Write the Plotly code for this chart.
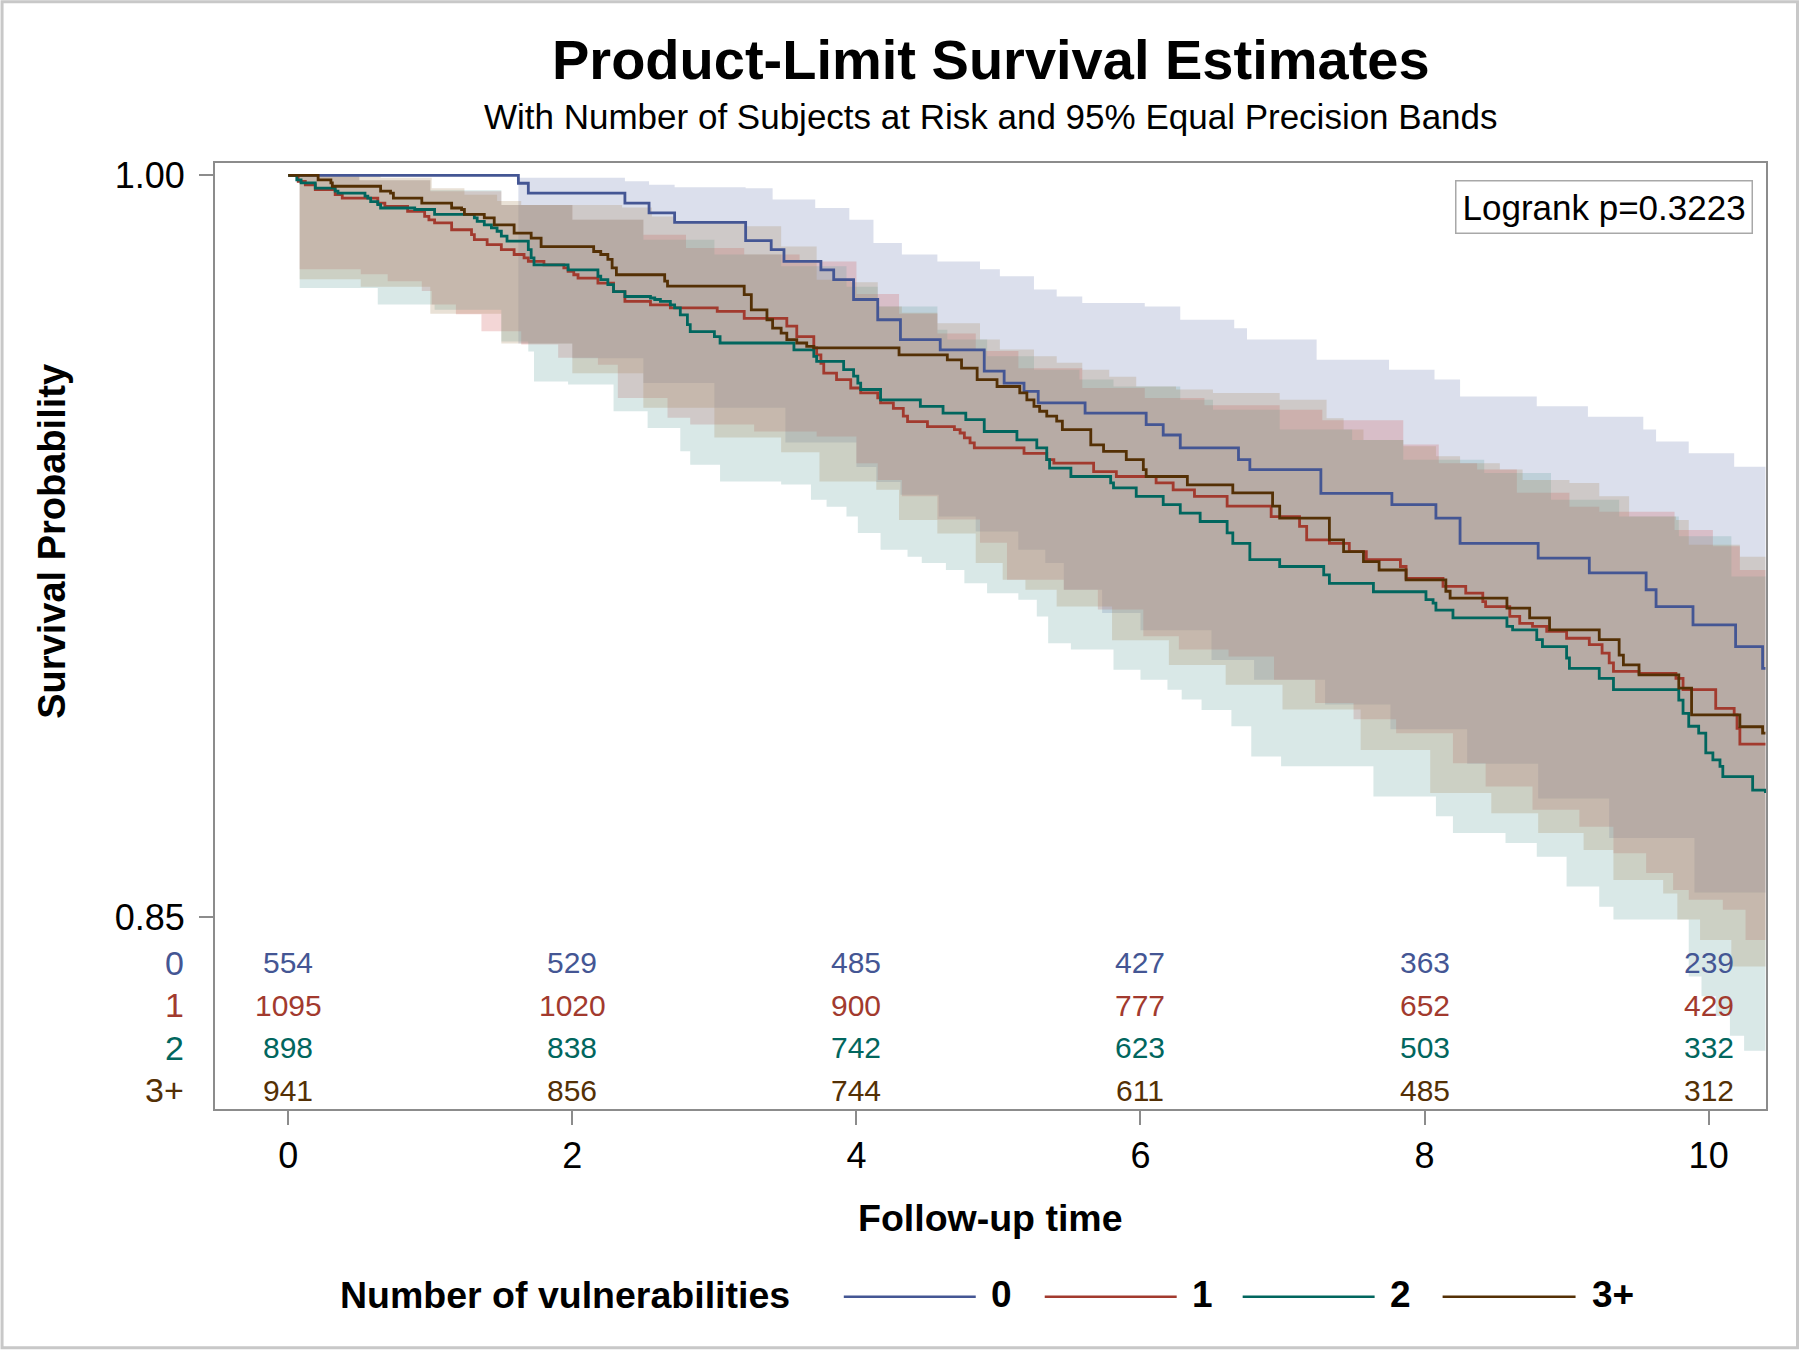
import plotly.graph_objects as go

# ---------------- data ----------------
groups = ["0", "1", "2", "3+"]

# Kaplan-Meier step curves: event times and survival after each step
t0 = [0, 1.62, 1.69, 2.37, 2.54, 2.72, 3.22, 3.40, 3.49, 3.75, 3.84, 3.98, 4.15, 4.31, 4.59, 4.90, 5.04, 5.18, 5.28, 5.61,
      6.04, 6.16, 6.28, 6.69, 6.77, 7.27, 7.77, 8.08, 8.25, 8.80, 9.16, 9.56, 9.63, 9.89, 10.19, 10.38, 10.40]
s0 = [1.0, 0.9984, 0.9964, 0.9944, 0.9924, 0.9905, 0.9868, 0.9850, 0.9826, 0.9809, 0.9789, 0.9749, 0.9708, 0.9668, 0.9647, 0.9604, 0.9580, 0.9563, 0.9540, 0.9519,
      0.9496, 0.9475, 0.9449, 0.9425, 0.9405, 0.9357, 0.9334, 0.9307, 0.9256, 0.9226, 0.9196, 0.9162, 0.9128, 0.9091, 0.9047, 0.9003, 0.9003]

t1 = [0, 0.07, 0.12, 0.19, 0.33, 0.38, 0.63, 0.68, 0.84, 0.96, 0.99, 1.03, 1.15, 1.29, 1.31, 1.40, 1.50, 1.59, 1.66, 1.69,
      1.80, 1.94, 1.97, 2.01, 2.04, 2.18, 2.29, 2.37, 2.55, 2.69, 3.02, 3.21, 3.51, 3.58, 3.70, 3.72, 3.75, 3.77, 3.86, 3.96,
      4.03, 4.15, 4.17, 4.26, 4.33, 4.36, 4.50, 4.69, 4.73, 4.76, 4.80, 4.83, 5.18, 5.34, 5.39, 5.67, 5.83, 6.11, 6.23, 6.38,
      6.61, 6.92, 7.12, 7.17, 7.33, 7.47, 7.59, 7.83, 7.87, 8.13, 8.29, 8.41, 8.43, 8.60, 8.67, 8.76, 8.86, 9.00, 9.16, 9.25,
      9.30, 9.33, 9.51, 9.77, 9.82, 10.05, 10.18, 10.20, 10.22, 10.40]
s1 = [1.0, 0.9988, 0.9981, 0.9971, 0.9961, 0.9954, 0.9944, 0.9937, 0.9927, 0.9917, 0.9910, 0.9904, 0.9890, 0.9880, 0.9870, 0.9860, 0.9850, 0.9840, 0.9833, 0.9826,
      0.9819, 0.9813, 0.9806, 0.9799, 0.9792, 0.9782, 0.9765, 0.9745, 0.9738, 0.9732, 0.9725, 0.9711, 0.9695, 0.9674, 0.9651, 0.9637, 0.9620, 0.9600, 0.9587, 0.9570,
      0.9560, 0.9550, 0.9540, 0.9529, 0.9513, 0.9502, 0.9492, 0.9486, 0.9479, 0.9469, 0.9459, 0.9449, 0.9438, 0.9425, 0.9418, 0.9401, 0.9391, 0.9378, 0.9364, 0.9351,
      0.9331, 0.9310, 0.9290, 0.9263, 0.9256, 0.9239, 0.9223, 0.9209, 0.9185, 0.9169, 0.9155, 0.9138, 0.9128, 0.9108, 0.9094, 0.9088, 0.9078, 0.9064, 0.9051, 0.9034,
      0.9014, 0.8997, 0.8993, 0.8983, 0.8960, 0.8922, 0.8909, 0.8882, 0.8850, 0.8850]

t2 = [0, 0.06, 0.09, 0.19, 0.33, 0.35, 0.54, 0.56, 0.58, 0.63, 0.65, 0.89, 1.03, 1.31, 1.33, 1.38, 1.43, 1.47, 1.50, 1.54,
      1.69, 1.71, 1.73, 1.97, 2.18, 2.20, 2.25, 2.29, 2.37, 2.55, 2.58, 2.62, 2.69, 2.72, 2.76, 2.81, 2.83, 3.00, 3.04, 3.56,
      3.70, 3.72, 3.91, 3.98, 4.01, 4.03, 4.17, 4.45, 4.61, 4.77, 4.90, 5.13, 5.27, 5.34, 5.36, 5.51, 5.79, 5.81, 5.97, 6.16,
      6.28, 6.42, 6.61, 6.65, 6.77, 6.98, 7.29, 7.33, 7.64, 8.01, 8.06, 8.08, 8.20, 8.58, 8.62, 8.79, 8.83, 9.00, 9.02, 9.23,
      9.33, 9.79, 9.82, 9.86, 9.93, 9.98, 10.03, 10.08, 10.10, 10.31, 10.40]
s2 = [1.0, 0.9991, 0.9985, 0.9974, 0.9968, 0.9964, 0.9958, 0.9954, 0.9947, 0.9941, 0.9934, 0.9931, 0.9921, 0.9914, 0.9907, 0.9900, 0.9894, 0.9887, 0.9877, 0.9867,
      0.9850, 0.9833, 0.9819, 0.9809, 0.9796, 0.9789, 0.9779, 0.9765, 0.9755, 0.9752, 0.9749, 0.9745, 0.9738, 0.9732, 0.9718, 0.9698, 0.9684, 0.9674, 0.9661, 0.9647,
      0.9634, 0.9624, 0.9607, 0.9594, 0.9580, 0.9567, 0.9546, 0.9533, 0.9519, 0.9506, 0.9482, 0.9465, 0.9449, 0.9425, 0.9408, 0.9391, 0.9378, 0.9368, 0.9351, 0.9334,
      0.9317, 0.9300, 0.9277, 0.9256, 0.9223, 0.9209, 0.9192, 0.9175, 0.9158, 0.9142, 0.9135, 0.9121, 0.9105, 0.9088, 0.9081, 0.9061, 0.9047, 0.9024, 0.9003, 0.8983,
      0.8960, 0.8939, 0.8912, 0.8886, 0.8872, 0.8832, 0.8818, 0.8805, 0.8784, 0.8757, 0.8751]

t3 = [0, 0.21, 0.30, 0.31, 0.65, 0.72, 0.74, 0.94, 1.15, 1.22, 1.24, 1.38, 1.45, 1.59, 1.71, 1.78, 2.15, 2.20, 2.25, 2.28,
      2.31, 2.65, 2.67, 3.21, 3.26, 3.37, 3.41, 3.47, 3.51, 3.58, 3.65, 3.70, 4.30, 4.64, 4.74, 4.85, 4.99, 5.15, 5.20, 5.25,
      5.29, 5.34, 5.41, 5.45, 5.65, 5.74, 5.90, 6.02, 6.04, 6.33, 6.65, 6.93, 6.98, 7.33, 7.43, 7.57, 7.68, 7.87, 8.15, 8.18,
      8.58, 8.74, 8.88, 9.23, 9.37, 9.40, 9.51, 9.79, 9.88, 10.22, 10.38, 10.40]
s3 = [1.0, 0.9991, 0.9985, 0.9978, 0.9968, 0.9964, 0.9954, 0.9944, 0.9934, 0.9931, 0.9921, 0.9914, 0.9900, 0.9883, 0.9873, 0.9856, 0.9846, 0.9840, 0.9830, 0.9813,
      0.9799, 0.9786, 0.9776, 0.9759, 0.9728, 0.9708, 0.9691, 0.9681, 0.9668, 0.9661, 0.9654, 0.9651, 0.9637, 0.9627, 0.9610, 0.9587, 0.9573, 0.9560, 0.9546, 0.9533,
      0.9523, 0.9513, 0.9503, 0.9486, 0.9455, 0.9442, 0.9425, 0.9405, 0.9391, 0.9374, 0.9358, 0.9331, 0.9307, 0.9263, 0.9239, 0.9219, 0.9202, 0.9182, 0.9159, 0.9145,
      0.9125, 0.9105, 0.9081, 0.9061, 0.9030, 0.9010, 0.8990, 0.8963, 0.8909, 0.8885, 0.8872, 0.8872]

# 95% equal precision bands (lower / upper step edges)
bl0_x = [1.62, 2.0, 2.5, 3.0, 3.5, 4.0, 4.14, 4.31, 4.58, 4.84, 5.14, 5.33, 5.46, 5.73, 6.0, 6.5, 6.8, 7.3, 7.76, 8.3, 8.8, 9.3, 9.9, 10.40]
bl0_y = [0.966, 0.963, 0.958, 0.953, 0.946, 0.941, 0.938, 0.9354, 0.931, 0.928, 0.9243, 0.9216, 0.9162, 0.9115, 0.908, 0.902, 0.898, 0.893, 0.888, 0.881, 0.874, 0.866, 0.855, 0.855]
bu0_x = [1.62, 2.37, 2.54, 2.72, 3.22, 3.41, 3.71, 3.95, 4.12, 4.32, 4.57, 4.87, 5.01, 5.25, 5.41, 5.59, 6.03, 6.28, 6.66, 6.75,
         7.24, 7.75, 8.07, 8.25, 8.79, 9.15, 9.54, 9.63, 9.86, 10.18, 10.40]
bu0_y = [0.9995, 0.9988, 0.9981, 0.9976, 0.9974, 0.9951, 0.9934, 0.9910, 0.9863, 0.9840, 0.9826, 0.9810, 0.9796, 0.9769, 0.9755, 0.9742, 0.9735, 0.9708, 0.9691, 0.9668,
         0.9627, 0.9607, 0.9587, 0.9553, 0.9533, 0.9512, 0.9486, 0.9462, 0.9438, 0.9411, 0.9378]

bl1_x = [0.08, 0.51, 0.70, 0.94, 1.01, 1.18, 1.36, 1.64, 1.90, 2.18, 2.32, 2.67, 2.83, 3.28, 3.72, 4.00, 4.15, 4.32, 4.57, 4.87,
         5.06, 5.46, 5.70, 6.02, 6.27, 6.62, 6.94, 7.23, 7.50, 7.80, 8.20, 8.43, 8.76, 9.09, 9.33, 9.56, 9.75, 9.86, 10.10, 10.26, 10.40]
bl1_y = [0.9810, 0.9800, 0.9786, 0.9766, 0.9739, 0.9719, 0.9685, 0.9658, 0.9631, 0.9617, 0.9550, 0.9510, 0.9496, 0.9482, 0.9472, 0.9418, 0.9384, 0.9351, 0.9304, 0.9257,
         0.9182, 0.9162, 0.9122, 0.9068, 0.9041, 0.9027, 0.8980, 0.8933, 0.8900, 0.8872, 0.8811, 0.8764, 0.8717, 0.8683, 0.8629, 0.8589, 0.8555, 0.8535, 0.8515, 0.8454, 0.8454]
bu1_x = [0.08, 0.50, 1.00, 1.50, 2.00, 2.50, 2.80, 3.21, 3.60, 4.00, 4.30, 4.57, 4.84, 5.14, 5.59, 6.03, 6.45, 6.98, 7.28, 7.85,
         8.10, 8.37, 8.65, 9.02, 9.23, 9.76, 10.03, 10.22, 10.40]
bu1_y = [0.9998, 0.9990, 0.9968, 0.9940, 0.9910, 0.9880, 0.9853, 0.9840, 0.9826, 0.9760, 0.9720, 0.9680, 0.9645, 0.9610, 0.9570, 0.9550, 0.9535, 0.9526, 0.9505, 0.9456,
         0.9418, 0.9405, 0.9358, 0.9330, 0.9320, 0.9283, 0.9250, 0.9202, 0.9169]

bl2_x = [0.08, 0.63, 1.03, 1.50, 1.69, 1.73, 1.97, 2.29, 2.53, 2.76, 2.83, 3.04, 3.47, 3.68, 3.79, 3.93, 4.01, 4.17, 4.36, 4.46,
         4.63, 4.76, 4.92, 5.14, 5.27, 5.35, 5.51, 5.81, 6.00, 6.19, 6.29, 6.43, 6.64, 6.78, 6.99, 7.29, 7.64, 8.08, 8.20, 8.57,
         8.79, 9.00, 9.23, 9.33, 9.86, 9.95, 10.05, 10.15, 10.25, 10.40]
bl2_y = [0.9772, 0.9739, 0.9728, 0.9664, 0.9644, 0.9583, 0.9577, 0.9523, 0.9489, 0.9442, 0.9415, 0.9381, 0.9375, 0.9344, 0.9330, 0.9310, 0.9277, 0.9243, 0.9229, 0.9216,
         0.9202, 0.9175, 0.9155, 0.9142, 0.9108, 0.9054, 0.9041, 0.9000, 0.8980, 0.8960, 0.8940, 0.8919, 0.8886, 0.8825, 0.8805, 0.8805, 0.8744, 0.8704, 0.8670, 0.8650,
         0.8622, 0.8562, 0.8521, 0.8495, 0.8380, 0.8340, 0.8300, 0.8260, 0.8230, 0.8211]
bu2_x = [0.08, 0.50, 1.00, 1.50, 2.00, 2.50, 3.00, 3.47, 3.93, 4.15, 4.57, 4.64, 4.92, 5.25, 5.57, 5.81, 6.28, 6.51, 6.98, 7.49,
         7.85, 8.42, 8.89, 9.37, 9.79, 10.16, 10.40]
bu2_y = [0.9998, 0.9990, 0.9970, 0.9940, 0.9910, 0.9870, 0.9840, 0.9816, 0.9775, 0.9735, 0.9688, 0.9668, 0.9634, 0.9607, 0.9587, 0.9573, 0.9546, 0.9526, 0.9486, 0.9465,
         0.9425, 0.9398, 0.9344, 0.9310, 0.9270, 0.9189, 0.9169]

bl3_x = [0.08, 0.51, 1.00, 1.50, 2.00, 2.50, 3.00, 3.47, 3.74, 4.14, 4.30, 4.57, 4.84, 5.03, 5.19, 5.41, 5.80, 6.20, 6.60, 7.00,
         7.55, 8.04, 8.47, 8.80, 9.12, 9.33, 9.68, 9.78, 9.94, 10.16, 10.40]
bl3_y = [0.9790, 0.9775, 0.9720, 0.9660, 0.9600, 0.9530, 0.9470, 0.9440, 0.9381, 0.9364, 0.9303, 0.9276, 0.9216, 0.9182, 0.9162, 0.9128, 0.9060, 0.9010, 0.8970, 0.8920,
         0.8838, 0.8751, 0.8710, 0.8670, 0.8636, 0.8575, 0.8548, 0.8495, 0.8454, 0.8400, 0.8380]
bu3_x = [0.08, 0.65, 1.01, 1.24, 1.47, 1.64, 2.35, 2.56, 2.72, 3.21, 3.47, 3.72, 3.96, 4.15, 4.32, 4.57, 4.87, 5.01, 5.25, 5.41,
         5.59, 5.78, 5.97, 6.25, 6.51, 6.98, 7.31, 7.43, 7.57, 7.85, 8.08, 8.25, 8.53, 8.69, 9.02, 9.23, 9.44, 9.77, 9.86, 10.22, 10.40]
bu3_y = [1.0, 0.9995, 0.9974, 0.9961, 0.9948, 0.9940, 0.9935, 0.9917, 0.9907, 0.9897, 0.9856, 0.9789, 0.9784, 0.9735, 0.9722, 0.9701, 0.9668, 0.9648, 0.9634, 0.9621,
         0.9607, 0.9593, 0.9573, 0.9567, 0.9560, 0.9546, 0.9509, 0.9486, 0.9465, 0.9452, 0.9432, 0.9418, 0.9405, 0.9384, 0.9378, 0.9351, 0.9310, 0.9303, 0.9253, 0.9229, 0.9223]

# Number of subjects at risk
risk_times = [0, 2, 4, 6, 8, 10]
risk_0 = [554, 529, 485, 427, 363, 239]
risk_1 = [1095, 1020, 900, 777, 652, 429]
risk_2 = [898, 838, 742, 623, 503, 332]
risk_3 = [941, 856, 744, 611, 485, 312]

x_ticks = [0, 2, 4, 6, 8, 10]
y_ticks = [0.85, 1.00]
logrank_p = 0.3223

# ---------------- styling ----------------
FONT = "Liberation Sans, Arial, sans-serif"
line_colors = ["#445694", "#A23A2E", "#01665E", "#543005"]
band_colors = ["rgba(111,126,179,0.25)", "rgba(208,91,91,0.25)",
               "rgba(102,165,160,0.25)", "rgba(169,134,91,0.25)"]

curves = [(t0, s0), (t1, s1), (t2, s2), (t3, s3)]
bands = [(bl0_x, bl0_y, bu0_x, bu0_y), (bl1_x, bl1_y, bu1_x, bu1_y),
         (bl2_x, bl2_y, bu2_x, bu2_y), (bl3_x, bl3_y, bu3_x, bu3_y)]
risks = [risk_0, risk_1, risk_2, risk_3]

fig = go.Figure()

for g in range(4):
    lx, ly, ux, uy = bands[g]
    fig.add_trace(go.Scatter(x=lx, y=ly, mode="lines", line=dict(width=0, shape="hv"),
                             showlegend=False, hoverinfo="skip"))
    fig.add_trace(go.Scatter(x=ux, y=uy, mode="lines", line=dict(width=0, shape="hv"),
                             fill="tonexty", fillcolor=band_colors[g],
                             showlegend=False, hoverinfo="skip"))

for g in range(4):
    t, s = curves[g]
    fig.add_trace(go.Scatter(x=t, y=s, mode="lines", name=groups[g],
                             line=dict(color=line_colors[g], width=2.8, shape="hv"),
                             showlegend=False))

# plot-area geometry (pixels)
L, R, T, B = 215, 33.5, 163.3, 240.7
W = 1800 - L - R
H = 1350 - T - B


def px(xpix):
    return (xpix - L) / W


def py(ypix):
    return (1350 - B - ypix) / H


ann = []
# title and subtitle
ann.append(dict(text="<b>Product-Limit Survival Estimates</b>", x=0.5, y=py(60), xref="paper", yref="paper",
                showarrow=False, xanchor="center", yanchor="middle", font=dict(size=56, color="black", family=FONT)))
ann.append(dict(text="With Number of Subjects at Risk and 95% Equal Precision Bands", x=0.5, y=py(117),
                xref="paper", yref="paper", showarrow=False, xanchor="center", yanchor="middle",
                font=dict(size=35, color="black", family=FONT)))
# axis titles
ann.append(dict(text="<b>Survival Probability</b>", x=px(52), y=py(542), xref="paper", yref="paper",
                showarrow=False, textangle=-90, xanchor="center", yanchor="middle",
                font=dict(size=38, color="black", family=FONT)))
ann.append(dict(text="<b>Follow-up time</b>", x=0.5, y=py(1218), xref="paper", yref="paper",
                showarrow=False, xanchor="center", yanchor="middle", font=dict(size=37.5, color="black", family=FONT)))
# logrank box
ann.append(dict(text="Logrank p=%.4f" % logrank_p, x=px(1753), y=py(180), xref="paper", yref="paper",
                showarrow=False, xanchor="right", yanchor="top", bgcolor="white",
                bordercolor="#a8a8a8", borderwidth=1.5, borderpad=6,
                font=dict(size=35, color="black", family=FONT)))
# at-risk table
row_y = [963.2, 1005.6, 1048.1, 1090.6]
for g in range(4):
    ann.append(dict(text=groups[g], x=px(186), y=py(row_y[g]), xref="paper", yref="paper", showarrow=False,
                    xanchor="right", yanchor="middle", font=dict(size=34, color=line_colors[g], family=FONT)))
    for tt, n in zip(risk_times, risks[g]):
        ann.append(dict(text=str(n), x=tt, y=py(row_y[g]), xref="x", yref="paper", showarrow=False,
                        xanchor="center", yanchor="middle", font=dict(size=30, color=line_colors[g], family=FONT)))

# custom legend
ann.append(dict(text="<b>Number of vulnerabilities</b>", x=px(565), y=py(1295), xref="paper", yref="paper",
                showarrow=False, xanchor="center", yanchor="middle", font=dict(size=37.5, color="black", family=FONT)))
leg_lines = [(844, 976, 1002), (1045, 1177, 1203), (1243, 1375, 1401), (1443, 1576, 1613)]
shapes = []
for g in range(4):
    x0, x1, xl = leg_lines[g]
    shapes.append(dict(type="line", xref="paper", yref="paper", x0=px(x0), x1=px(x1), y0=py(1297), y1=py(1297),
                       line=dict(color=line_colors[g], width=2.5)))
    ann.append(dict(text="<b>%s</b>" % groups[g], x=px(xl), y=py(1295), xref="paper", yref="paper",
                    showarrow=False, xanchor="center", yanchor="middle",
                    font=dict(size=37, color="black", family=FONT)))

# outer frame
shapes.append(dict(type="rect", xref="paper", yref="paper", x0=px(2), x1=px(1798), y0=py(1348), y1=py(2),
                   line=dict(color="#c8c8c8", width=3), fillcolor="rgba(0,0,0,0)"))

fig.update_layout(
    width=1800, height=1350,
    margin=dict(l=L, r=R, t=T, b=B, pad=0),
    paper_bgcolor="white", plot_bgcolor="white",
    showlegend=False,
    font=dict(family=FONT, color="black"),
    annotations=ann, shapes=shapes,
    xaxis=dict(range=[-0.516, 10.404], tickvals=x_ticks, ticktext=[str(v) for v in x_ticks],
               ticks="outside", ticklen=14, tickwidth=2, tickcolor="#8c8c8c",
               showline=True, linecolor="#8c8c8c", linewidth=2, mirror=True,
               showgrid=False, zeroline=False, tickfont=dict(size=36, color="black"),
               ticklabelstandoff=0),
    yaxis=dict(range=[0.8112, 1.0025], tickvals=y_ticks, ticktext=["%.2f" % v for v in y_ticks],
               ticks="outside", ticklen=14, tickwidth=2, tickcolor="#8c8c8c",
               showline=True, linecolor="#8c8c8c", linewidth=2, mirror=True,
               showgrid=False, zeroline=False, tickfont=dict(size=36, color="black"),
               ticklabelstandoff=7),
)

fig.write_html("out.html", config={"displayModeBar": False},
               post_script="document.body.style.margin='0';")
